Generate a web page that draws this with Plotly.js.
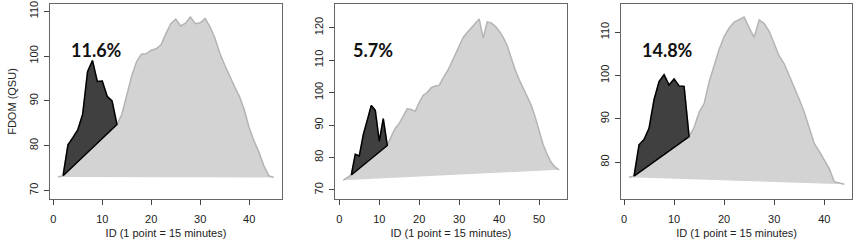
<!DOCTYPE html>
<html>
<head>
<meta charset="utf-8">
<script src="https://cdn.plot.ly/plotly-3.0.1.min.js"></script>
<style>html,body{margin:0;padding:0;background:#fff;}#chart{width:856px;height:251px;}</style>
</head>
<body>
<div id="chart"></div>
<script>
// ---- Data ----
var fdom1 = [73, 73.3, 80.2, 81.8, 83.5, 87, 96.5, 99, 94.3, 94.4, 91, 90, 84.7,
  87, 91, 95.5, 98.7, 100.4, 100.5, 101.3, 101.6, 102.5, 105, 107.2, 108.2, 106.7,
  107.3, 108.7, 107.2, 107.4, 108.4, 106.5, 104, 100.6, 98, 95.5, 93.2, 91, 88, 84,
  81, 78.5, 75.5, 73.3, 72.9];
var fdom2 = [73, 73.8, 74.6, 81, 80.5, 87, 91.5, 96, 94.5, 85, 92, 83.7,
  86.5, 89, 90.5, 92.6, 95, 94.8, 94.2, 97, 99.2, 100, 101.5, 102, 102.2, 104.5,
  106.5, 109, 111.5, 114.5, 117, 118.5, 120, 121.5, 122.7, 116.8, 121.8, 121.5,
  120.5, 119, 117, 114.5, 110.5, 107, 104, 101.5, 99, 96.2, 92.5, 88, 84, 81, 78.5,
  77, 76.2];
var fdom3 = [76.5, 76.8, 84, 85.2, 87.8, 94.4, 98.6, 100.2, 97.8, 99.2, 97.6, 97.5,
  85.9, 88, 91.5, 93.5, 98.5, 102.5, 106, 109, 111, 112.3, 113, 113.5, 111, 108.8,
  112.8, 112, 110.2, 107.5, 104.5, 102.7, 100, 97.5, 94.5, 91.5, 88, 84.3, 82.5,
  80.5, 78.5, 75.5, 75.2, 74.9];
// first-flush event window (ID start, ID end) per panel
var eventStart = [2, 3, 2];
var eventEnd = [13, 12, 13];
var percentLabels = ["11.6%", "5.7%", "14.8%"];
var labelX = [8.8, 8.5, 8.65];
var labelY = [101.3, 113.1, 105.9];
var xTitle = "ID (1 point = 15 minutes)";
var yTitle = "FDOM (QSU)";

// ---- Build traces ----
var series = [fdom1, fdom2, fdom3];
var traces = [];
var tickFont = {family: "Liberation Sans, Arial, sans-serif", size: 11, color: "#222"};
series.forEach(function (vals, i) {
  var ids = vals.map(function (v, k) { return k + 1; });
  var ax = i === 0 ? "" : String(i + 1);
  traces.push({
    type: "scatter", mode: "lines", x: ids, y: vals, fill: "toself",
    fillcolor: "#d3d3d3", line: {color: "#b4b4b4", width: 1.5},
    xaxis: "x" + ax, yaxis: "y" + ax, hoverinfo: "skip", showlegend: false
  });
  var ex = [], ey = [];
  for (var k = eventStart[i]; k <= eventEnd[i]; k++) { ex.push(k); ey.push(vals[k - 1]); }
  ex.push(eventStart[i]); ey.push(vals[eventStart[i] - 1]);
  traces.push({
    type: "scatter", mode: "lines", x: ex, y: ey, fill: "toself",
    fillcolor: "#404040", line: {color: "#000", width: 1.5},
    xaxis: "x" + ax, yaxis: "y" + ax, hoverinfo: "skip", showlegend: false
  });
});

var xDomains = [[50/856, 282/856], [335/856, 566.7/856], [621/856, 852.3/856]];
var xRanges = [[-0.67, 46.7], [-1.08, 56.9], [-0.6, 45.6]];
var yRanges = [[68.1, 111.6], [67.2, 127.3], [71.5, 116.5]];
var yDomain = [1 - 199/251, 1 - 4/251];

var layout = {
  width: 856, height: 251, margin: {l: 0, r: 0, t: 0, b: 0},
  paper_bgcolor: "#fff", plot_bgcolor: "#fff", showlegend: false,
  annotations: []
};
for (var i = 0; i < 3; i++) {
  var s = i === 0 ? "" : String(i + 1);
  layout["xaxis" + s] = {
    domain: xDomains[i], range: xRanges[i], anchor: "y" + s,
    showgrid: false, zeroline: false, showline: true, mirror: true,
    linecolor: "#666", linewidth: 1, ticks: "outside", ticklen: 5, tickcolor: "#444",
    dtick: 10, tick0: 0, tickfont: tickFont,
    ticklabelposition: "outside", ticklabelstandoff: 5,
    title: {text: xTitle, font: tickFont, standoff: 5}
  };
  layout["yaxis" + s] = {
    domain: yDomain, range: yRanges[i], anchor: "x" + s,
    showgrid: false, zeroline: false, showline: true, mirror: true,
    linecolor: "#666", linewidth: 1, ticks: "outside", ticklen: 5, tickcolor: "#444",
    dtick: 10, tick0: 0, tickangle: -90, tickfont: tickFont,
    ticklabelposition: "outside", ticklabelstandoff: 2,
    title: {text: i === 0 ? yTitle : "", font: tickFont, standoff: 8}
  };
  layout.annotations.push({
    xref: "x" + s, yref: "y" + s, x: labelX[i], y: labelY[i], text: "<b>" + percentLabels[i] + "</b>",
    showarrow: false, font: {family: "Lato, Open Sans, sans-serif", size: 18, color: "#111"},
    xanchor: "center", yanchor: "middle"
  });
}

Plotly.newPlot("chart", traces, layout, {displayModeBar: false, staticPlot: true});
</script>
</body>
</html>
